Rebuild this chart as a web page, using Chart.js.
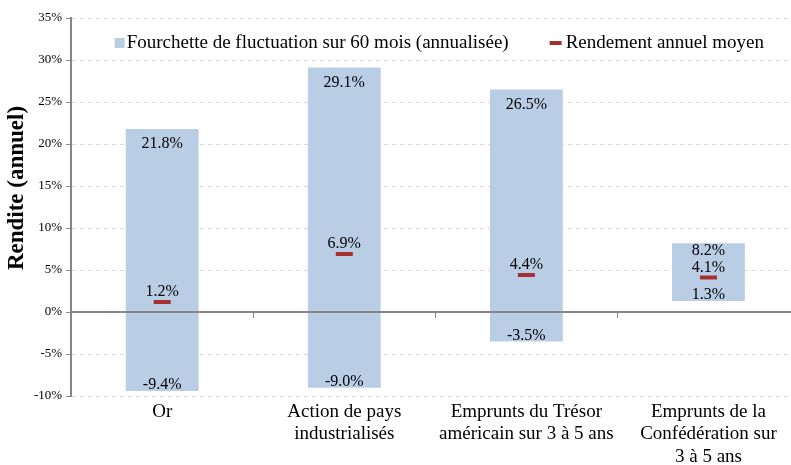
<!DOCTYPE html>
<html>
<head>
<meta charset="utf-8">
<script src="https://cdn.jsdelivr.net/npm/chart.js@4.4.0/dist/chart.umd.min.js"></script>
<style>
  html, body { margin: 0; padding: 0; background: #fff; overflow: hidden; }
  #wrap { width: 812px; height: 465px; position: relative; }
</style>
</head>
<body>
<div id="wrap"><canvas id="rangeChart"></canvas></div>
<script>
// categories and values (in %)
var categories = [
  'Or',
  ['Action de pays', 'industrialisés'],
  ['Emprunts du Trésor', 'américain sur 3 à 5 ans'],
  ['Emprunts de la', 'Confédération sur', '3 à 5 ans']
];
var minValues  = [-9.4, -9.0, -3.5, 1.3];
var maxValues  = [21.8, 29.1, 26.5, 8.2];
var meanValues = [1.2, 6.9, 4.4, 4.1];
var rangeLabel = 'Fourchette de fluctuation sur 60 mois (annualisée)';
var meanLabel  = 'Rendement annuel moyen';
var yTitle     = 'Rendite (annuel)';

var serif = "'Liberation Serif', 'Times New Roman', serif";
var axisGray = '#868686';
var barBlue = '#B9CDE5';
var meanRed = '#A5312F';

var ranges = [];
for (var i = 0; i < categories.length; i++) {
  ranges.push([minValues[i], maxValues[i]]);
}

function pct(v) {
  return v.toFixed(1) + '%';
}

// zero line, category ticks, value labels, legend and axis title
var labelsPlugin = {
  id: 'valueLabels',
  afterDatasetsDraw: function(chart) {
    var ctx = chart.ctx;
    var xs = chart.scales.x;
    var ys = chart.scales.y;
    var area = chart.chartArea;
    var y0 = ys.getPixelForValue(0);

    ctx.save();
    ctx.strokeStyle = axisGray;
    ctx.lineWidth = 2;
    ctx.beginPath();
    ctx.moveTo(area.left, y0);
    ctx.lineTo(area.right, y0);
    ctx.stroke();
    ctx.lineWidth = 1;
    ctx.beginPath();
    for (var k = 0; k < categories.length - 1; k++) {
      var tx = Math.round(xs.getPixelForValue(k + 0.5)) + 0.5;
      ctx.moveTo(tx, y0);
      ctx.lineTo(tx, y0 + 6);
    }
    ctx.stroke();

    var meta = chart.getDatasetMeta(0);
    ctx.fillStyle = '#000';
    ctx.font = '16px ' + serif;
    ctx.textAlign = 'center';
    meta.data.forEach(function(bar, i) {
      var x = bar.x;
      var top = ys.getPixelForValue(maxValues[i]);
      var mid = ys.getPixelForValue(meanValues[i]);
      // short bars keep the top label close to the edge
      var off = (mid - top) < 45 ? 0 : 7;
      ctx.textBaseline = 'top';
      ctx.fillText(pct(maxValues[i]), x, top + off);
      ctx.textBaseline = 'bottom';
      ctx.fillText(pct(minValues[i]), x, ys.getPixelForValue(minValues[i]) + 2);
      ctx.fillText(pct(meanValues[i]), x, mid - 2);
    });

    // legend inside the plot area
    ctx.font = '19px ' + serif;
    ctx.textBaseline = 'middle';
    ctx.textAlign = 'left';
    var w1 = ctx.measureText(rangeLabel).width;
    var w2 = ctx.measureText(meanLabel).width;
    var total = 12 + w1 + 41 + 16 + w2;
    var lx = (area.left + area.right) / 2 + 4 - total / 2;
    var ly = area.top + 25;
    ctx.fillStyle = barBlue;
    ctx.fillRect(lx, ly - 5, 10, 10);
    ctx.fillStyle = '#000';
    ctx.fillText(rangeLabel, lx + 12, ly);
    var lx2 = lx + 12 + w1 + 41;
    ctx.strokeStyle = meanRed;
    ctx.lineWidth = 4;
    ctx.beginPath();
    ctx.moveTo(lx2, ly);
    ctx.lineTo(lx2 + 12, ly);
    ctx.stroke();
    ctx.fillText(meanLabel, lx2 + 16, ly);

    // y axis title
    ctx.translate(17, 188);
    ctx.rotate(-Math.PI / 2);
    ctx.textAlign = 'center';
    ctx.font = 'bold 23px ' + serif;
    ctx.fillText(yTitle, 0, 0);
    ctx.restore();
  }
};

var chart = new Chart(document.getElementById('rangeChart').getContext('2d'), {
  data: {
    labels: categories,
    datasets: [
      {
        type: 'bar',
        label: rangeLabel,
        data: ranges,
        backgroundColor: barBlue,
        borderWidth: 0,
        barPercentage: 0.4,
        categoryPercentage: 1.0,
        order: 2
      },
      {
        type: 'line',
        label: meanLabel,
        data: meanValues,
        showLine: false,
        pointStyle: 'line',
        pointRadius: 8.5,
        pointHoverRadius: 8.5,
        borderColor: meanRed,
        backgroundColor: meanRed,
        borderWidth: 4,
        order: 1
      }
    ]
  },
  options: {
    responsive: true,
    maintainAspectRatio: false,
    animation: false,
    layout: { padding: { left: 30, right: 2, top: 18, bottom: -8 } },
    plugins: {
      legend: { display: false },
      tooltip: { enabled: false }
    },
    scales: {
      x: {
        grid: { display: false, drawTicks: false },
        border: { display: false },
        ticks: {
          color: '#000',
          font: { family: serif, size: 19, lineHeight: 1.21 },
          maxRotation: 0,
          autoSkip: false,
          padding: 4
        }
      },
      y: {
        min: -10,
        max: 35,
        grid: {
          color: '#D9D9D9',
          lineWidth: 1,
          drawTicks: true,
          tickLength: 5,
          tickColor: axisGray,
          tickWidth: 1
        },
        border: { display: true, color: axisGray, width: 2, dash: [4, 4] },
        ticks: {
          stepSize: 5,
          color: '#000',
          font: { family: serif, size: 13 },
          padding: 4,
          callback: function(v) { return v + '%'; }
        }
      }
    }
  },
  plugins: [labelsPlugin]
});
</script>
</body>
</html>
